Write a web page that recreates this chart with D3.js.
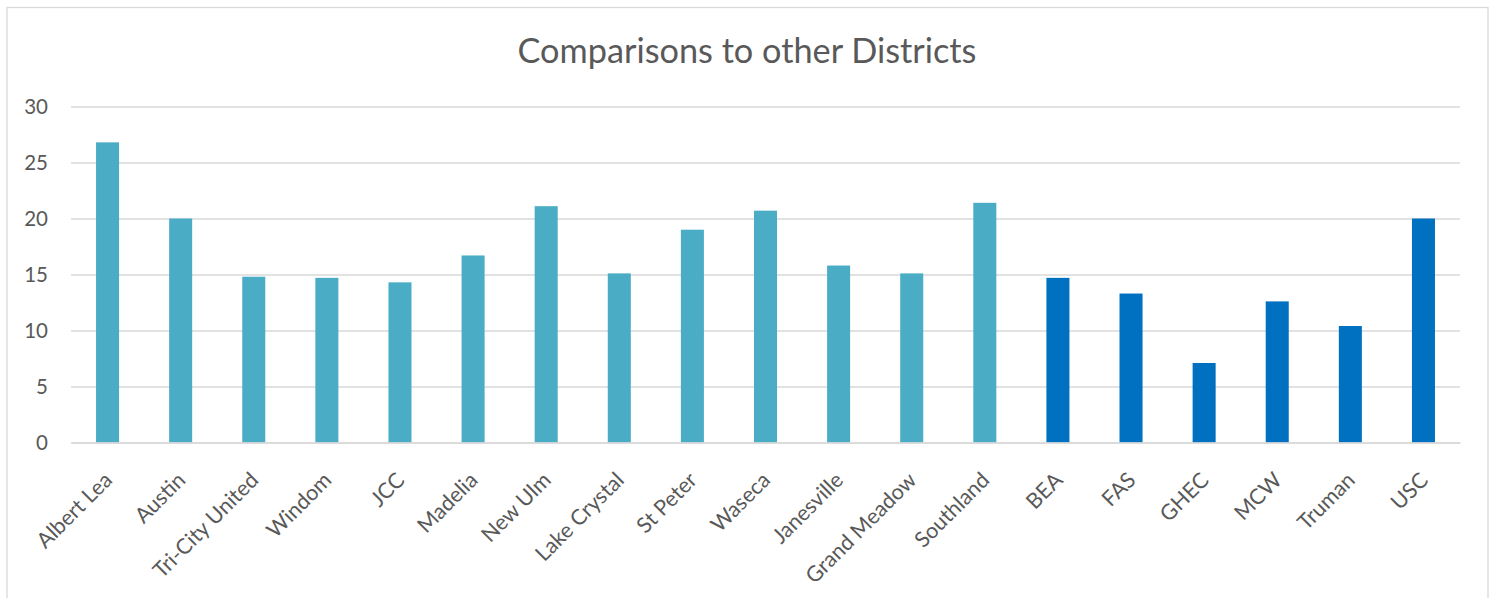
<!DOCTYPE html>
<html>
<head>
<meta charset="utf-8">
<script src="https://cdn.jsdelivr.net/npm/d3@7"></script>
<style>
  html, body { margin: 0; padding: 0; background: #ffffff; }
  svg { display: block; }
</style>
</head>
<body>
<svg id="chart" width="1494" height="598"></svg>
<script>
const title = "Comparisons to other Districts";
const categories = ["Albert Lea","Austin","Tri-City United","Windom","JCC","Madelia","New Ulm","Lake Crystal","St Peter","Waseca","Janesville","Grand Meadow","Southland","BEA","FAS","GHEC","MCW","Truman","USC"];
const values = [26.8, 20.0, 14.8, 14.7, 14.3, 16.7, 21.1, 15.1, 19.0, 20.7, 15.8, 15.1, 21.4, 14.7, 13.3, 7.1, 12.6, 10.4, 20.0];
const groups = ["other","other","other","other","other","other","other","other","other","other","other","other","other","own","own","own","own","own","own"];
const yTicks = [0, 5, 10, 15, 20, 25, 30];
const groupColors = { other: "#4BACC6", own: "#0070C0" };

const W = 1494, H = 598;
const margin = { left: 71, right: 34, top: 106.5, bottom: 155.5 };
const font = "Lato, 'Open Sans', sans-serif";
const textColor = "#595959";
const gridColor = "#d9d9d9";

const svg = d3.select("#chart");

// outer chart border
svg.append("rect")
  .attr("x", 7).attr("y", 7.5)
  .attr("width", 1481).attr("height", 620)
  .attr("fill", "#ffffff")
  .attr("stroke", gridColor).attr("stroke-width", 1.3);

const x = d3.scaleBand().domain(categories).range([margin.left, W - margin.right]).padding(0);
const y = d3.scaleLinear().domain([0, 30]).range([H - margin.bottom, margin.top]);

// gridlines + y labels
const yAxis = d3.axisLeft(y).tickValues(yTicks).tickSize(-(W - margin.right - margin.left)).tickPadding(23);
const gy = svg.append("g").attr("transform", `translate(${margin.left},0)`).call(yAxis);
gy.select(".domain").remove();
gy.selectAll(".tick line").attr("stroke", gridColor).attr("stroke-width", 1.3);
gy.selectAll(".tick text")
  .attr("fill", textColor)
  .style("font-family", font)
  .style("font-size", "20.5px");

// bars
const barW = x.bandwidth() * 0.315;
svg.append("g").selectAll("rect")
  .data(categories)
  .join("rect")
  .attr("x", (d) => x(d) + (x.bandwidth() - barW) / 2)
  .attr("y", (d, i) => y(values[i]))
  .attr("width", barW)
  .attr("height", (d, i) => y(0) - y(values[i]))
  .attr("fill", (d, i) => groupColors[groups[i]]);

// x axis labels
const xAxis = d3.axisBottom(x).tickSize(0).tickPadding(0);
const gx = svg.append("g").attr("transform", `translate(0,${y(0)})`).call(xAxis);
gx.select(".domain").attr("stroke", gridColor).attr("stroke-width", 1.3);
gx.selectAll(".tick text")
  .attr("fill", textColor)
  .style("font-family", font)
  .style("font-size", "21.5px")
  .attr("text-anchor", "end")
  .attr("dy", 0)
  .attr("y", 0)
  .attr("transform", "translate(6,39) rotate(-45)");

// title
const t = svg.append("text")
  .attr("x", W / 2).attr("y", 63)
  .attr("text-anchor", "middle")
  .attr("fill", textColor)
  .style("font-family", font)
  .style("font-size", "33px")
  .text(title);
const tw = t.node().getComputedTextLength();
if (tw > 0) t.style("font-size", (33 * 459 / tw) + "px");
</script>
</body>
</html>
